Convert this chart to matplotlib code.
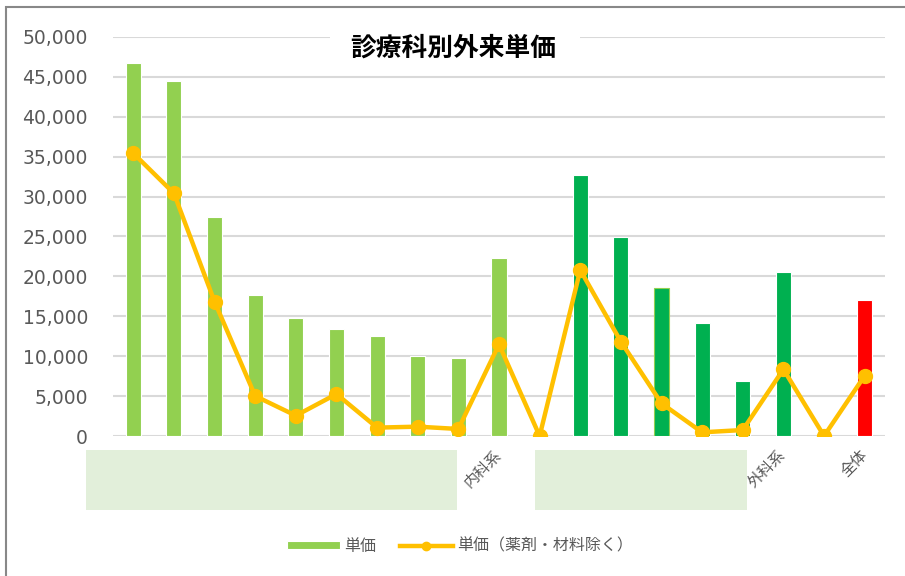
import matplotlib.pyplot as plt
from matplotlib.patches import Rectangle
from matplotlib.ticker import FuncFormatter, MultipleLocator

plt.rcParams['font.family'] = ['DejaVu Sans', 'Noto Sans CJK JP']

# Data (hidden labels left blank)
labels = [''] * 9 + ['内科系', ''] + [''] * 5 + ['外科系', '', '全体']
unit_price = [46780, 44490, 27400, 17670, 14830, 13370, 12570, 10030, 9740, 22340,
              0, 32710, 24980, 18590, 14120, 6850, 20550, 0, 17040]
unit_price_excl = [35430, 30410, 16830, 5010, 2550, 5260, 1050, 1170, 880, 11490,
                   0, 20800, 11820, 4090, 460, 750, 8360, 0, 7560]
bar_colors = ['#92D050'] * 11 + ['#00B050'] * 6 + ['#92D050', '#FF0000']

fig = plt.figure(figsize=(9.05, 5.76), dpi=100)
ax = fig.add_axes([113 / 905, 1 - 436 / 576, (885 - 113) / 905, (436 - 37) / 576])

x = range(len(labels))
edges = ['#FFFFFF'] * len(labels)
edges[13] = '#92D050'
bars = ax.bar(x, unit_price, width=0.37, color=bar_colors, edgecolor=edges, linewidth=0.8,
              label='単価', zorder=2)
line, = ax.plot(x, unit_price_excl, color='#FFC000', linewidth=3.2, marker='o', markersize=10,
                label='単価（薬剤・材料除く）', zorder=3)

# Format plot
ax.set_xlim(-0.5, len(labels) - 0.5)
ax.set_ylim(0, 50000)
ax.yaxis.set_major_locator(MultipleLocator(5000))
ax.yaxis.set_major_formatter(FuncFormatter(lambda v, p: f'{int(v):,}'))
ax.grid(axis='y', color='#D9D9D9', linewidth=1.5, zorder=0)
ax.set_axisbelow(True)
for s in ax.spines.values():
    s.set_visible(False)
ax.tick_params(axis='y', length=0, labelsize=13.5, labelcolor='#595959', pad=18)
ax.tick_params(axis='x', length=0, pad=12)
ax.set_xticks(list(x))
ax.set_xticklabels(labels, rotation=45, ha='right', va='center', rotation_mode='anchor',
                   fontsize=11, color='#595959', family=['Noto Sans CJK JP'])

# Title sits on a white box that hides the top gridline under it
fig.patches.append(Rectangle((330 / 905, 1 - 66 / 576), 250 / 905, 36 / 576,
                             transform=fig.transFigure, facecolor='white', edgecolor='none', zorder=5))
fig.text(453 / 905, 1 - 48 / 576, '診療科別外来単価', ha='center', va='center', fontsize=18.5,
         fontweight='bold', family=['Noto Sans CJK JP'], zorder=6)

leg = fig.legend([bars, line], ['単価', '単価（薬剤・材料除く）'], loc='center',
                 bbox_to_anchor=(460 / 905, 1 - 546 / 576), ncol=2, frameon=False,
                 prop={'family': ['Noto Sans CJK JP'], 'size': 11.5},
                 handlelength=3.3, handleheight=0.45, columnspacing=1.5, handletextpad=0.25,
                 markerscale=0.6)
for t in leg.get_texts():
    t.set_color('#595959')

# Redacted label areas and chart border
fig.patches.append(Rectangle((86 / 905, 1 - 510 / 576), (457 - 86) / 905, 60 / 576,
                             transform=fig.transFigure, facecolor='#E2EFDA', edgecolor='none', zorder=6))
fig.patches.append(Rectangle((535 / 905, 1 - 510 / 576), (747 - 535) / 905, 60 / 576,
                             transform=fig.transFigure, facecolor='#E2EFDA', edgecolor='none', zorder=6))
fig.patches.append(Rectangle((6 / 905, -0.1), 1.2, 1.1 - 7 / 576, transform=fig.transFigure,
                             facecolor='none', edgecolor='#888888', linewidth=1.5))

fig.savefig('out.png')
